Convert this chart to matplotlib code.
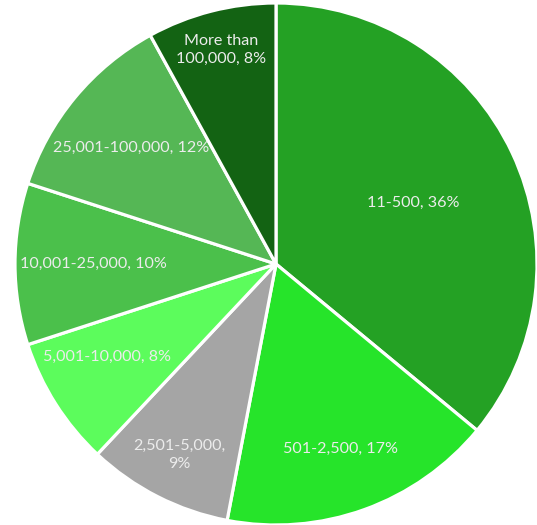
import numpy as np
import matplotlib.pyplot as plt

shares = [36, 17, 9, 8, 10, 12, 8]
colors = ["#24a124", "#26e42a", "#a5a5a5", "#5cfc5c", "#4bc04b", "#55b755", "#136313"]
label_text = ["11-500, 36%", "501-2,500, 17%", "2,501-5,000,\n9%", "5,001-10,000, 8%",
              "10,001-25,000, 10%", "25,001-100,000, 12%", "More than\n100,000, 8%"]
# label placement: radius fraction and small angle nudge (degrees) from the wedge middle
label_r = [0.575, 0.75, 0.82, 0.74, 0.70, 0.71, 0.847]
label_dang = [-1.0, -0.7, 0.2, -3.6, 0.0, 1.0, 0.0]

plt.rcParams['font.family'] = ['Lato', 'DejaVu Sans']

fig = plt.figure(figsize=(5.37, 5.25), dpi=100)
cx, cy, r = 276, 264, 261
ax = fig.add_axes([(cx - r) / 537, (525 - cy - r) / 525, 2 * r / 537, 2 * r / 525])
wedges, _ = ax.pie(shares, colors=colors, startangle=90, counterclock=False,
                   wedgeprops=dict(edgecolor="white", linewidth=2.3))
ax.set_xlim(-1, 1)
ax.set_ylim(-1, 1)
ax.set_aspect("auto")

for w, txt, lr, da in zip(wedges, label_text, label_r, label_dang):
    mid = np.deg2rad((w.theta1 + w.theta2) / 2 + da)
    ax.text(lr * np.cos(mid), lr * np.sin(mid), txt, ha="center", va="center",
            color="#ececec", fontsize=11.6, linespacing=1.3)

fig.savefig("out.png", dpi=100)
